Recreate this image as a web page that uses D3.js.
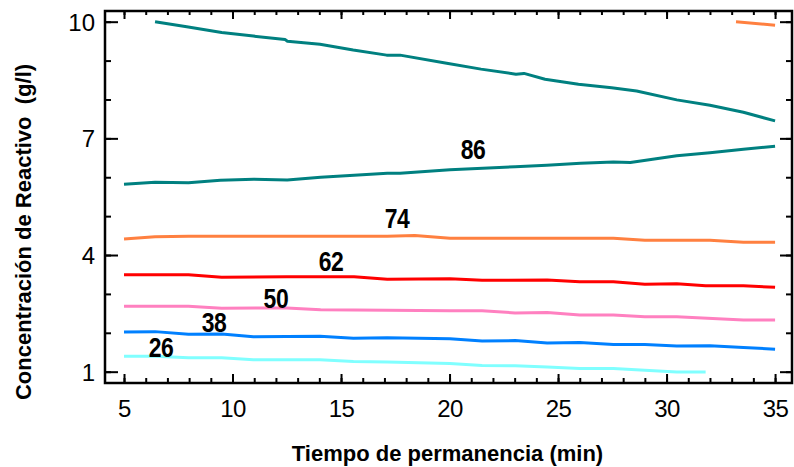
<!DOCTYPE html>
<html>
<head>
<meta charset="utf-8">
<script src="https://cdn.jsdelivr.net/npm/d3@7"></script>
<style>
  html, body { margin: 0; padding: 0; background: #fff; }
  svg { display: block; }
  text { font-family: "Liberation Sans", Arial, Helvetica, sans-serif; }
</style>
</head>
<body>
<svg id="chart" width="794" height="467"></svg>
<script>
// ---------------- DATA ----------------
const xMajorTicks = [5, 10, 15, 20, 25, 30, 35];
const yMajorTicks = [1, 4, 7, 10];
const xTitle = "Tiempo de permanencia (min)";
const yTitle = "Concentración de Reactivo \u00A0(g/l)";

// contour level 86 (two branches)
const c86upper = [[6.43,10.0],[7.89,9.87],[9.5,9.72],[10.96,9.63],[12.42,9.54],[12.53,9.5],[14.03,9.42],[15.56,9.27],[17.1,9.14],[17.72,9.14],[19.87,8.93],[21.45,8.78],[23.06,8.65],[23.43,8.67],[24.4,8.52],[25.94,8.39],[27.47,8.3],[28.62,8.22],[30.47,7.99],[32.0,7.85],[33.54,7.67],[35.0,7.45]];
const c86lower = [[5.0,5.82],[6.43,5.87],[7.97,5.86],[9.44,5.92],[10.98,5.95],[12.52,5.93],[14.06,6.0],[15.6,6.05],[17.13,6.1],[17.72,6.1],[20.02,6.19],[23.02,6.27],[24.48,6.31],[26.04,6.36],[27.55,6.39],[28.33,6.38],[30.47,6.55],[32.0,6.63],[33.54,6.72],[35.0,6.8]];
// contour level 74 (two branches)
const c74upper = [[33.2,10.0],[35.0,9.91]];
const c74lower = [[5.0,4.41],[6.43,4.47],[7.97,4.48],[17.13,4.48],[18.4,4.5],[20.02,4.43],[26.0,4.43],[27.55,4.43],[29.0,4.38],[32.0,4.38],[33.54,4.33],[35.0,4.33]];
// contour level 62
const c62 = [[5.0,3.49],[7.97,3.49],[9.5,3.43],[12.5,3.44],[15.6,3.44],[17.13,3.38],[20.02,3.39],[21.5,3.35],[24.5,3.36],[26.0,3.31],[27.55,3.31],[29.0,3.25],[30.47,3.26],[31.8,3.21],[33.54,3.21],[35.0,3.17]];
// contour level 50
const c50 = [[5.0,2.68],[7.97,2.68],[9.5,2.63],[12.5,2.64],[14.06,2.59],[17.13,2.58],[20.02,2.57],[21.5,2.57],[23.02,2.51],[24.5,2.52],[26.0,2.46],[27.55,2.46],[29.0,2.41],[30.47,2.41],[33.54,2.33],[35.0,2.33]];
// contour level 38
const c38 = [[5.0,2.02],[6.43,2.03],[7.97,1.96],[9.5,1.97],[10.96,1.9],[14.03,1.91],[15.57,1.86],[17.13,1.87],[20.02,1.85],[21.5,1.79],[23.02,1.8],[24.5,1.74],[26.0,1.75],[27.55,1.7],[29.0,1.7],[30.47,1.66],[32.0,1.67],[33.54,1.62],[35.0,1.58]];
// contour level 26
const c26 = [[5.0,1.4],[6.43,1.4],[7.97,1.36],[9.5,1.36],[10.96,1.31],[14.03,1.31],[15.57,1.26],[17.13,1.25],[20.02,1.21],[21.5,1.16],[23.02,1.15],[24.5,1.12],[26.0,1.08],[27.55,1.08],[29.0,1.04],[30.47,0.99],[31.8,0.99]];

const levels = [86, 74, 62, 50, 38, 26];
const levelLines = {86: [c86upper, c86lower], 74: [c74upper, c74lower], 62: [c62], 50: [c50], 38: [c38], 26: [c26]};
// label anchor (data coords) for each level
const labelX = [21.08, 17.58, 14.54, 12.0, 9.15, 6.71];
const labelY = [6.72, 4.95, 3.85, 2.89, 2.28, 1.62];

// ---------------- STYLE ----------------
const levelColor = {86: "#008080", 74: "#FF8040", 62: "#FF0000", 50: "#FF80C0", 38: "#0080FF", 26: "#80FFFF"};

const svg = d3.select("#chart");
const frame = {left: 105, right: 792, top: 11, bottom: 383};

const x = d3.scaleLinear().domain([4.124, 35.78]).range([frame.left, frame.right]);
const y = d3.scaleLinear().domain([0.709, 10.275]).range([frame.bottom, frame.top]);

const minorX = d3.range(5, 36, 1);
const minorY = d3.range(1, 11, 1);

// contour lines
const line = d3.line().x(d => x(d[0])).y(d => y(d[1]));
const gLines = svg.append("g");
levels.forEach(lv => {
  levelLines[lv].forEach(seg => {
    gLines.append("path")
      .attr("d", line(seg))
      .attr("fill", "none")
      .attr("stroke", levelColor[lv])
      .attr("stroke-width", 3)
      .attr("stroke-linejoin", "round");
  });
});

// contour labels
levels.forEach((lv, i) => {
  svg.append("text")
    .attr("transform", `translate(${x(labelX[i])},${y(labelY[i])}) scale(0.85,1)`)
    .attr("text-anchor", "middle")
    .attr("dy", "0.36em")
    .attr("font-size", 27)
    .attr("font-weight", "bold")
    .attr("letter-spacing", -0.5)
    .attr("fill", "#000")
    .text(lv);
});

// axes helper
function styleAxis(g) {
  g.select(".domain").remove();
  g.selectAll(".tick line").attr("stroke", "#000").attr("stroke-width", 2);
}

// bottom
svg.append("g").attr("transform", `translate(0,${frame.bottom})`)
  .call(d3.axisBottom(x).tickValues(minorX).tickSize(-5).tickFormat(""))
  .call(styleAxis);
svg.append("g").attr("transform", `translate(0,${frame.bottom})`)
  .call(d3.axisBottom(x).tickValues(xMajorTicks).tickSize(-9).tickPadding(17).tickFormat(d3.format("d")))
  .call(styleAxis)
  .call(g => g.selectAll("text").attr("font-size", 24).attr("fill", "#000")
     .attr("font-family", '"Liberation Sans", Arial, sans-serif').attr("letter-spacing", -0.5));
// top
svg.append("g").attr("transform", `translate(0,${frame.top})`)
  .call(d3.axisTop(x).tickValues(minorX).tickSize(-4).tickFormat(""))
  .call(styleAxis);
svg.append("g").attr("transform", `translate(0,${frame.top})`)
  .call(d3.axisTop(x).tickValues(xMajorTicks).tickSize(-8).tickFormat(""))
  .call(styleAxis);
// left
svg.append("g").attr("transform", `translate(${frame.left},0)`)
  .call(d3.axisLeft(y).tickValues(minorY).tickSize(-6).tickFormat(""))
  .call(styleAxis);
svg.append("g").attr("transform", `translate(${frame.left},0)`)
  .call(d3.axisLeft(y).tickValues(yMajorTicks).tickSize(-13).tickPadding(10).tickFormat(d3.format("d")))
  .call(styleAxis)
  .call(g => g.selectAll("text").attr("font-size", 24).attr("fill", "#000")
     .attr("font-family", '"Liberation Sans", Arial, sans-serif').attr("dy", "0.36em"));
// right
svg.append("g").attr("transform", `translate(${frame.right},0)`)
  .call(d3.axisRight(y).tickValues(minorY).tickSize(-6).tickFormat(""))
  .call(styleAxis);
svg.append("g").attr("transform", `translate(${frame.right},0)`)
  .call(d3.axisRight(y).tickValues(yMajorTicks).tickSize(-12).tickFormat(""))
  .call(styleAxis);

// frame
svg.append("rect")
  .attr("x", frame.left).attr("y", frame.top)
  .attr("width", frame.right - frame.left).attr("height", frame.bottom - frame.top)
  .attr("fill", "none").attr("stroke", "#000").attr("stroke-width", 2.5);

// titles
svg.append("text")
  .attr("x", (frame.left + frame.right) / 2 - 1).attr("y", 461)
  .attr("text-anchor", "middle")
  .attr("font-size", 22).attr("font-weight", "bold").attr("fill", "#000")
  .text(xTitle);
svg.append("text")
  .attr("transform", "translate(31,232) rotate(-90)")
  .attr("text-anchor", "middle")
  .attr("font-size", 22).attr("font-weight", "bold").attr("fill", "#000")
  .text(yTitle);
</script>
</body>
</html>
